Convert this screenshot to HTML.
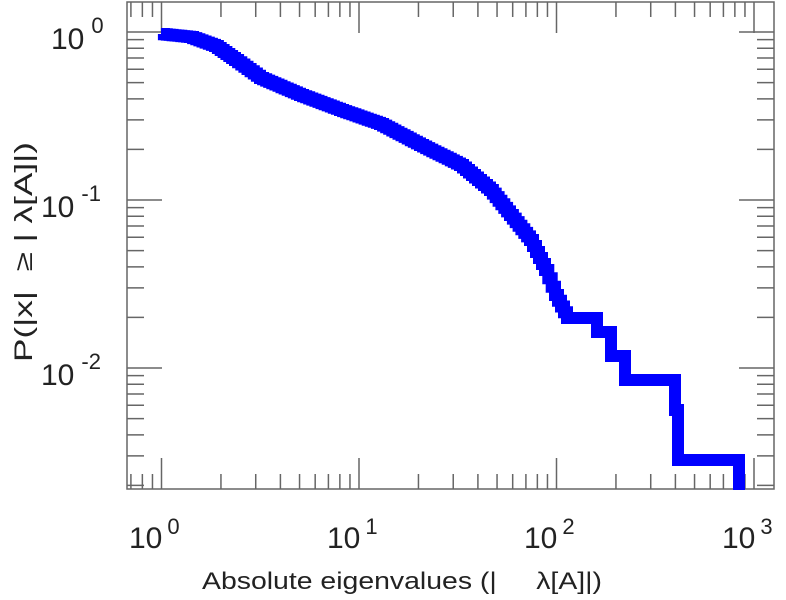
<!DOCTYPE html>
<html><head><meta charset="utf-8"><style>
html,body{margin:0;padding:0;background:#fff;}
svg{display:block;font-family:"Liberation Sans",sans-serif;}
</style></head><body>
<svg id="s" width="786" height="600" viewBox="0 0 786 600" xmlns="http://www.w3.org/2000/svg">
<rect x="127" y="2" width="647" height="487" fill="none" stroke="#666" stroke-width="1.5"/>
<g id="ticks" stroke="#666" stroke-width="1.5"></g>
<path id="curve" fill="none" stroke="#0000ff" stroke-width="12" stroke-linejoin="miter" stroke-linecap="butt"/>
<g fill="#222" font-size="30">
<text x="51" y="49">10<tspan font-size="22" dx="7" dy="-16">0</tspan></text>
<text x="41" y="217">10<tspan font-size="22" dx="7" dy="-16">-1</tspan></text>
<text x="41" y="385">10<tspan font-size="22" dx="7" dy="-16">-2</tspan></text>
<text x="129" y="548">10<tspan font-size="22" dx="5" dy="-14">0</tspan></text>
<text x="327" y="548">10<tspan font-size="22" dx="5" dy="-14">1</tspan></text>
<text x="524" y="548">10<tspan font-size="22" dx="5" dy="-14">2</tspan></text>
<text x="722" y="548">10<tspan font-size="22" dx="5" dy="-14">3</tspan></text>
</g>
<text x="202" y="589" font-size="24" fill="#222" xml:space="preserve" textLength="400" lengthAdjust="spacingAndGlyphs">Absolute eigenvalues (|     λ[A]|)</text>
<text transform="translate(32,362) rotate(-90)" font-size="25" fill="#222" xml:space="preserve" textLength="220" lengthAdjust="spacingAndGlyphs">P(|x|  ≥ | λ[A]|)</text>
</svg>
<script>
var g=document.getElementById('ticks'),L='';
function X(v){return 161.5+197.5*Math.log10(v);}
function Y(p){return 32-168*Math.log10(p);}
function ln(a,b,c,d){L+='<line x1="'+a+'" y1="'+b+'" x2="'+c+'" y2="'+d+'"/>';}
for(var e=-1;e<=3;e++)for(var k=1;k<10;k++){var x=X(k*Math.pow(10,e));if(x<128||x>773)continue;var l=k==1?31:15;ln(x,489,x,489-l);ln(x,2,x,2+l);}
for(var e=-3;e<=0;e++)for(var k=1;k<10;k++){var y=Y(k*Math.pow(10,e));if(y<3||y>488)continue;var l=k==1?35:17;ln(127,y,127+l,y);ln(774,y,774-l,y);}
g.innerHTML=L;
var pts=[[161,34],[190,37],[215,46],[235,60],[260,78],[300,95],[340,110],[380,124],[420,145],[460,165],[490,190],[510,215],[530,240],[545,270],[555,295],[567,318]];
var d='M'+pts[0][0]+' '+pts[0][1];
for(var i=1;i<pts.length;i++){var a=pts[i-1],b=pts[i];var n=Math.max(2,Math.round((b[0]-a[0])/3));
for(var j=1;j<=n;j++){var x=a[0]+(b[0]-a[0])*j/n;d+=' H'+x.toFixed(1)+' V'+(a[1]+(b[1]-a[1])*j/n).toFixed(1);}}
d+=' H597 V332 H611 V356 H625 V380 H675 V410 H678 V460 H739 V490';
document.getElementById('curve').setAttribute('d',d);
</script>
</body></html>
